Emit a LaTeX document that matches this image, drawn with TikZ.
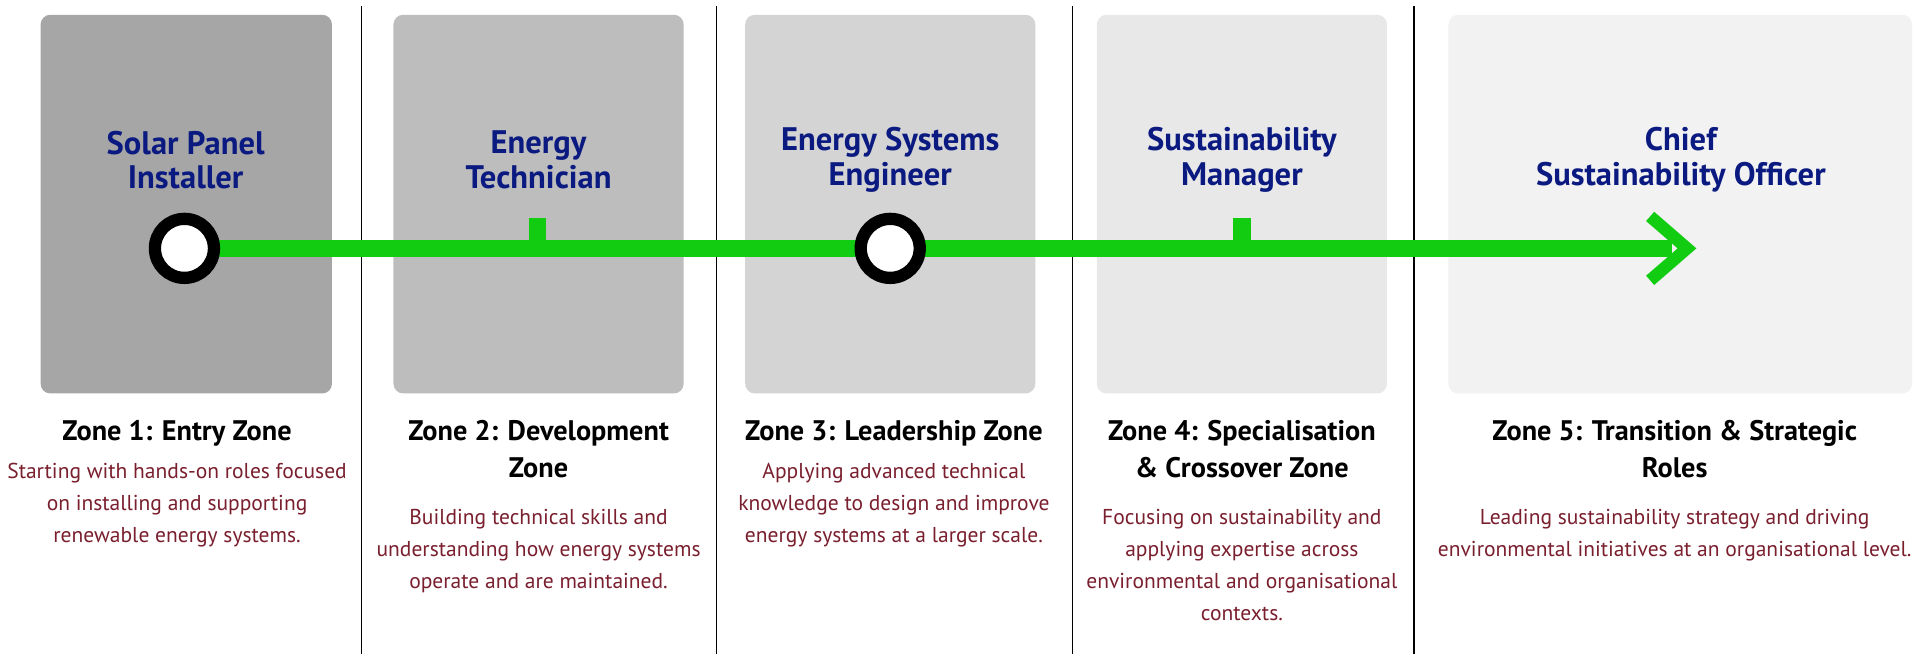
\documentclass[tikz,border=0pt]{standalone}
\usepackage{fontspec}
\setmainfont{PT Sans}
\definecolor{navy}{HTML}{0A1A80}
\definecolor{wine}{HTML}{7A1F2E}
\definecolor{grn}{HTML}{11CC11}
\tikzset{
 zbox/.style={rounded corners=8pt},
 role/.style={font=\bfseries\fontsize{26.5}{28}\selectfont, text=navy, align=center},
 zhead/.style={font=\bfseries\fontsize{23}{30}\selectfont, align=center},
 zdesc/.style={font=\fontsize{17.5}{26}\selectfont, text=wine, align=center},
 sep/.style={line width=1pt},
 stop/.style={circle, draw=black, line width=10pt, fill=white, minimum size=48pt, inner sep=0pt},
}
\begin{document}
\begin{tikzpicture}[x=1pt,y=-1pt]
\useasboundingbox (0,0) rectangle (1568,532);
\fill[white] (0,0) rectangle (1568,532);
\fill[zbox, fill={rgb,255:red,166;green,166;blue,166}] (33,12) rectangle (270,320);
\fill[zbox, fill={rgb,255:red,189;green,189;blue,189}] (320,12) rectangle (556,320);
\fill[zbox, fill={rgb,255:red,212;green,212;blue,212}] (606,12) rectangle (842,320);
\fill[zbox, fill={rgb,255:red,232;green,232;blue,232}] (892,12) rectangle (1128,320);
\fill[zbox, fill={rgb,255:red,242;green,242;blue,242}] (1178,12) rectangle (1555,320);
\foreach \x in {294,583,872,1150} \draw[sep] (\x,5) -- (\x,532);
\node[role] (r1) at (151,130) {Solar Panel\\Installer};
\node[role] (r2) at (438,130) {Energy\\Technician};
\node[role] (r3) at (724,130) {Energy Systems\\Engineer};
\node[role] (r4) at (1010,130) {Sustainability\\Manager};
\node[role] (r5) at (1367,130) {Chief\\Sustainability Officer};
\coordinate (s) at (150,202);
\coordinate (e) at (1372,202);
\draw[grn, line width=14pt] (s) -- (1360,202);
\draw[grn, line width=10pt, line cap=butt] (1342,176) -- (e) -- (1342,228);
\coordinate (t1) at (437,202); \coordinate (t2) at (1010,202);
\draw[grn, line width=14pt] (t1) -- ++(0,-25);
\draw[grn, line width=14pt] (t2) -- ++(0,-25);
\node[stop] (c1) at (s) {};
\node[stop] (c2) at (724,202) {};
\node[zhead, anchor=north] (h1) at (144,338) {Zone 1: Entry Zone};
\node[zdesc, anchor=north] (d1) at (144,373) {Starting with hands-on roles focused\\on installing and supporting\\renewable energy systems.};
\node[zhead, anchor=north] (h2) at (438,338) {Zone 2: Development\\Zone};
\node[zdesc, anchor=north] (d2) at (438,411) {Building technical skills and\\understanding how energy systems\\operate and are maintained.};
\node[zhead, anchor=north] (h3) at (727,338) {Zone 3: Leadership Zone};
\node[zdesc, anchor=north] (d3) at (727,373) {Applying advanced technical\\knowledge to design and improve\\energy systems at a larger scale.};
\node[zhead, anchor=north] (h4) at (1010,338) {Zone 4: Specialisation\\\& Crossover Zone};
\node[zdesc, anchor=north] (d4) at (1010,411) {Focusing on sustainability and\\applying expertise across\\environmental and organisational\\contexts.};
\node[zhead, anchor=north] (h5) at (1362,338) {Zone 5: Transition \& Strategic\\Roles};
\node[zdesc, anchor=north] (d5) at (1362,411) {Leading sustainability strategy and driving\\environmental initiatives at an organisational level.};
\end{tikzpicture}
\end{document}
